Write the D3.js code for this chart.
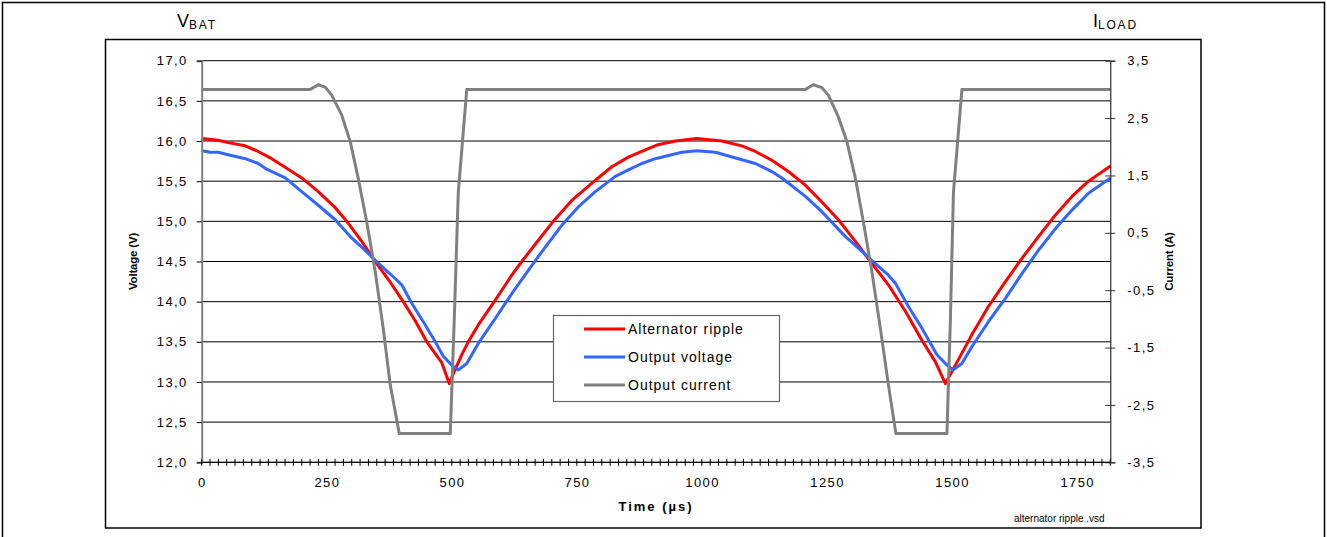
<!DOCTYPE html>
<html><head><meta charset="utf-8">
<script src="https://cdn.jsdelivr.net/npm/d3@7"></script>
<style>
body{margin:0;background:#fff;}
svg{display:block;font-family:"Liberation Sans",Arial,sans-serif;}
</style></head><body>
<svg id="c" width="1327" height="537"></svg>
<script>
// ---- data (time in µs) ----
const timeTicks = [0, 250, 500, 750, 1000, 1250, 1500, 1750];
const timeMinorStep = 250 / 15;
const timeMax = 109 * 250 / 15;
const voltTicks = [12, 12.5, 13, 13.5, 14, 14.5, 15, 15.5, 16, 16.5, 17];
const currTicks = [-3.5, -2.5, -1.5, -0.5, 0.5, 1.5, 2.5, 3.5];
const seriesNames = ["Alternator ripple", "Output voltage", "Output current"];
const seriesColors = ["#ff0000", "#3366ff", "#808080"];

const alternatorRipple = [
  [0,16.03],[33,16.01],[53,15.98],[87,15.94],[113,15.87],[140,15.78],[163,15.69],[200,15.54],
  [233,15.37],[267,15.17],[290,15.0],[320,14.75],[347,14.5],[375,14.26],[403,14.0],[428,13.75],
  [450,13.5],[480,13.24],[495,12.98],[503,13.1],[520,13.34],[533,13.5],[553,13.71],[585,14.0],
  [620,14.33],[640,14.5],[670,14.74],[703,15.0],[740,15.26],[785,15.5],[820,15.68],[853,15.8],
  [887,15.89],[910,15.95],[947,16.0],[990,16.03],[1040,16.0],[1080,15.94],[1107,15.87],
  [1140,15.76],[1173,15.62],[1207,15.45],[1240,15.24],[1273,15.02],[1307,14.75],[1337,14.5],
  [1373,14.21],[1407,13.88],[1440,13.52],[1467,13.25],[1487,12.98],[1507,13.21],[1540,13.59],
  [1573,13.94],[1607,14.25],[1640,14.54],[1673,14.81],[1707,15.08],[1740,15.31],[1773,15.5],
  [1817,15.69]
];
const outputVoltage = [
  [0,15.88],[17,15.86],[33,15.86],[53,15.83],[87,15.78],[113,15.72],[130,15.65],[167,15.54],
  [200,15.37],[233,15.2],[267,15.02],[297,14.81],[320,14.68],[343,14.54],[360,14.44],[383,14.31],
  [400,14.21],[420,13.98],[447,13.71],[467,13.5],[483,13.32],[500,13.21],[513,13.15],[530,13.23],
  [553,13.48],[587,13.79],[620,14.1],[653,14.39],[687,14.68],[720,14.95],[753,15.18],[787,15.37],
  [827,15.56],[853,15.64],[880,15.72],[907,15.78],[960,15.86],[990,15.88],[1027,15.86],
  [1073,15.78],[1107,15.72],[1140,15.62],[1160,15.54],[1207,15.31],[1240,15.12],[1287,14.81],
  [1307,14.7],[1333,14.55],[1373,14.33],[1387,14.23],[1413,13.94],[1440,13.67],[1470,13.34],
  [1487,13.23],[1502,13.15],[1520,13.23],[1540,13.44],[1573,13.75],[1607,14.04],[1640,14.35],
  [1673,14.64],[1707,14.91],[1740,15.14],[1773,15.35],[1817,15.54]
];
const outputCurrent = [
  [0,3.0],[217,3.0],[233,3.08],[247,3.04],[260,2.9],[280,2.55],[297,2.09],[313,1.45],[330,0.69],
  [347,-0.18],[363,-1.17],[377,-2.15],[395,-3.0],[497,-3.0],[505,-1.0],[513,1.2],[530,3.0],
  [1207,3.0],[1223,3.08],[1240,3.03],[1253,2.9],[1273,2.52],[1290,2.09],[1307,1.45],[1323,0.69],
  [1340,-0.18],[1357,-1.17],[1373,-2.15],[1388,-3.0],[1490,-3.0],[1497,-1.0],[1503,1.2],
  [1520,3.0],[1817,3.0]
];

// ---- chart ----
const loc = d3.formatLocale({decimal: ",", thousands: ".", grouping: [3], currency: ["", ""], minus: "-"});
const f1 = loc.format(".1f");
const svg = d3.select("#c");
const P = {left: 201.7, right: 1110.3, top: 60.7, bottom: 462.3};
const x = d3.scaleLinear().domain([0, timeMax]).range([P.left, P.right]);
const yV = d3.scaleLinear().domain([12, 17]).range([P.bottom, P.top]);
const yI = d3.scaleLinear().domain([-3.5, 3.5]).range([P.bottom, P.top]);

svg.append("rect").attr("width", 1327).attr("height", 537).attr("fill", "#fff");
// outer frame
svg.append("rect").attr("x", 2.5).attr("y", 2.5).attr("width", 1322).attr("height", 545)
  .attr("fill", "none").attr("stroke", "#000").attr("stroke-width", 1.5);
// inner frame
svg.append("rect").attr("x", 105.5).attr("y", 39.5).attr("width", 1095.5).attr("height", 488.5)
  .attr("fill", "none").attr("stroke", "#000").attr("stroke-width", 1.5);

// gridlines
svg.append("g").selectAll("line").data(voltTicks).join("line")
  .attr("x1", P.left).attr("x2", P.right)
  .attr("y1", d => yV(d)).attr("y2", d => yV(d))
  .attr("stroke", "#000").attr("stroke-width", 1);

// series
const lineV = d3.line().x(d => x(d[0])).y(d => yV(d[1]));
const lineI = d3.line().x(d => x(d[0])).y(d => yI(d[1]));
svg.append("path").datum(alternatorRipple).attr("d", lineV)
  .attr("fill", "none").attr("stroke", seriesColors[0]).attr("stroke-width", 3).attr("stroke-linejoin", "round");
svg.append("path").datum(outputVoltage).attr("d", lineV)
  .attr("fill", "none").attr("stroke", seriesColors[1]).attr("stroke-width", 3).attr("stroke-linejoin", "round");
svg.append("path").datum(outputCurrent).attr("d", lineI)
  .attr("fill", "none").attr("stroke", seriesColors[2]).attr("stroke-width", 3).attr("stroke-linejoin", "round");

// left axis
const gL = svg.append("g").attr("transform", `translate(${P.left},0)`)
  .call(d3.axisLeft(yV).tickValues(voltTicks).tickSize(5).tickPadding(9).tickFormat(f1));
gL.select(".domain").attr("stroke", "#808080").attr("stroke-width", 2);
gL.selectAll(".tick line").attr("stroke", "#000");
gL.selectAll(".tick text").attr("font-size", 13).attr("letter-spacing", 1.4)
  .attr("font-family", "Liberation Sans, Arial, sans-serif").attr("fill", "#000");

// right axis (ticks crossing)
const gR = svg.append("g").attr("transform", `translate(${P.right},0)`)
  .call(d3.axisRight(yI).tickValues(currTicks).tickSize(5).tickPadding(12).tickFormat(f1));
gR.select(".domain").attr("stroke", "#000").attr("stroke-width", 1);
gR.selectAll(".tick line").attr("x1", -5).attr("stroke", "#333");
gR.selectAll(".tick text").attr("font-size", 13).attr("letter-spacing", 1.4)
  .attr("font-family", "Liberation Sans, Arial, sans-serif").attr("fill", "#000");

// bottom axis
const minor = d3.range(0, timeMax + 0.01, timeMinorStep);
const gB = svg.append("g").attr("transform", `translate(0,${P.bottom})`);
gB.append("line").attr("x1", P.left).attr("x2", P.right).attr("stroke", "#000").attr("stroke-width", 1);
gB.selectAll("line.mt").data(minor).join("line").attr("class", "mt")
  .attr("x1", d => x(d)).attr("x2", d => x(d)).attr("y1", -3.5).attr("y2", 3.5)
  .attr("stroke", "#000").attr("stroke-width", 1);
gB.selectAll("text").data(timeTicks).join("text")
  .attr("x", d => x(d) + 0.7).attr("y", 25).attr("text-anchor", "middle")
  .attr("font-size", 13).attr("letter-spacing", 1.4).text(d => d);

// axis titles
svg.append("text").attr("x", 656).attr("y", 511).attr("text-anchor", "middle")
  .attr("font-size", 13).attr("font-weight", "bold").attr("letter-spacing", 2).text("Time (µs)");
svg.append("text").attr("transform", `translate(137,${(P.top + P.bottom) / 2}) rotate(-90)`)
  .attr("text-anchor", "middle").attr("font-size", 11.5).attr("font-weight", "bold")
  .attr("letter-spacing", -0.2).text("Voltage (V)");
svg.append("text").attr("transform", `translate(1173,${(P.top + P.bottom) / 2}) rotate(-90)`)
  .attr("text-anchor", "middle").attr("font-size", 11.5).attr("font-weight", "bold")
  .attr("letter-spacing", -0.2).text("Current (A)");

// VBAT / ILOAD
const vb = svg.append("text").attr("x", 177).attr("y", 27).attr("font-size", 18);
vb.append("tspan").text("V");
vb.append("tspan").attr("font-size", 12).attr("letter-spacing", 1.8).attr("dy", 2).text("BAT");
const il = svg.append("text").attr("x", 1093).attr("y", 27).attr("font-size", 18);
il.append("tspan").text("I");
il.append("tspan").attr("font-size", 12).attr("letter-spacing", 1.8).attr("dy", 2).text("LOAD");

// footnote
svg.append("text").attr("x", 1014).attr("y", 522).attr("font-size", 10).text("alternator ripple .vsd");

// legend
const lg = svg.append("g").attr("transform", "translate(553,315)");
lg.append("rect").attr("x", 0.5).attr("y", 0.5).attr("width", 226).attr("height", 86)
  .attr("fill", "#fff").attr("stroke", "#666").attr("stroke-width", 1.2);
const items = lg.selectAll("g").data(seriesNames).join("g")
  .attr("transform", (d, i) => `translate(0,${14 + i * 28})`);
items.append("line").attr("x1", 31).attr("x2", 72).attr("stroke", (d, i) => seriesColors[i]).attr("stroke-width", 3);
items.append("text").attr("x", 75).attr("y", 5).attr("font-size", 14).attr("letter-spacing", 1).text(d => d);
</script>
</body></html>
